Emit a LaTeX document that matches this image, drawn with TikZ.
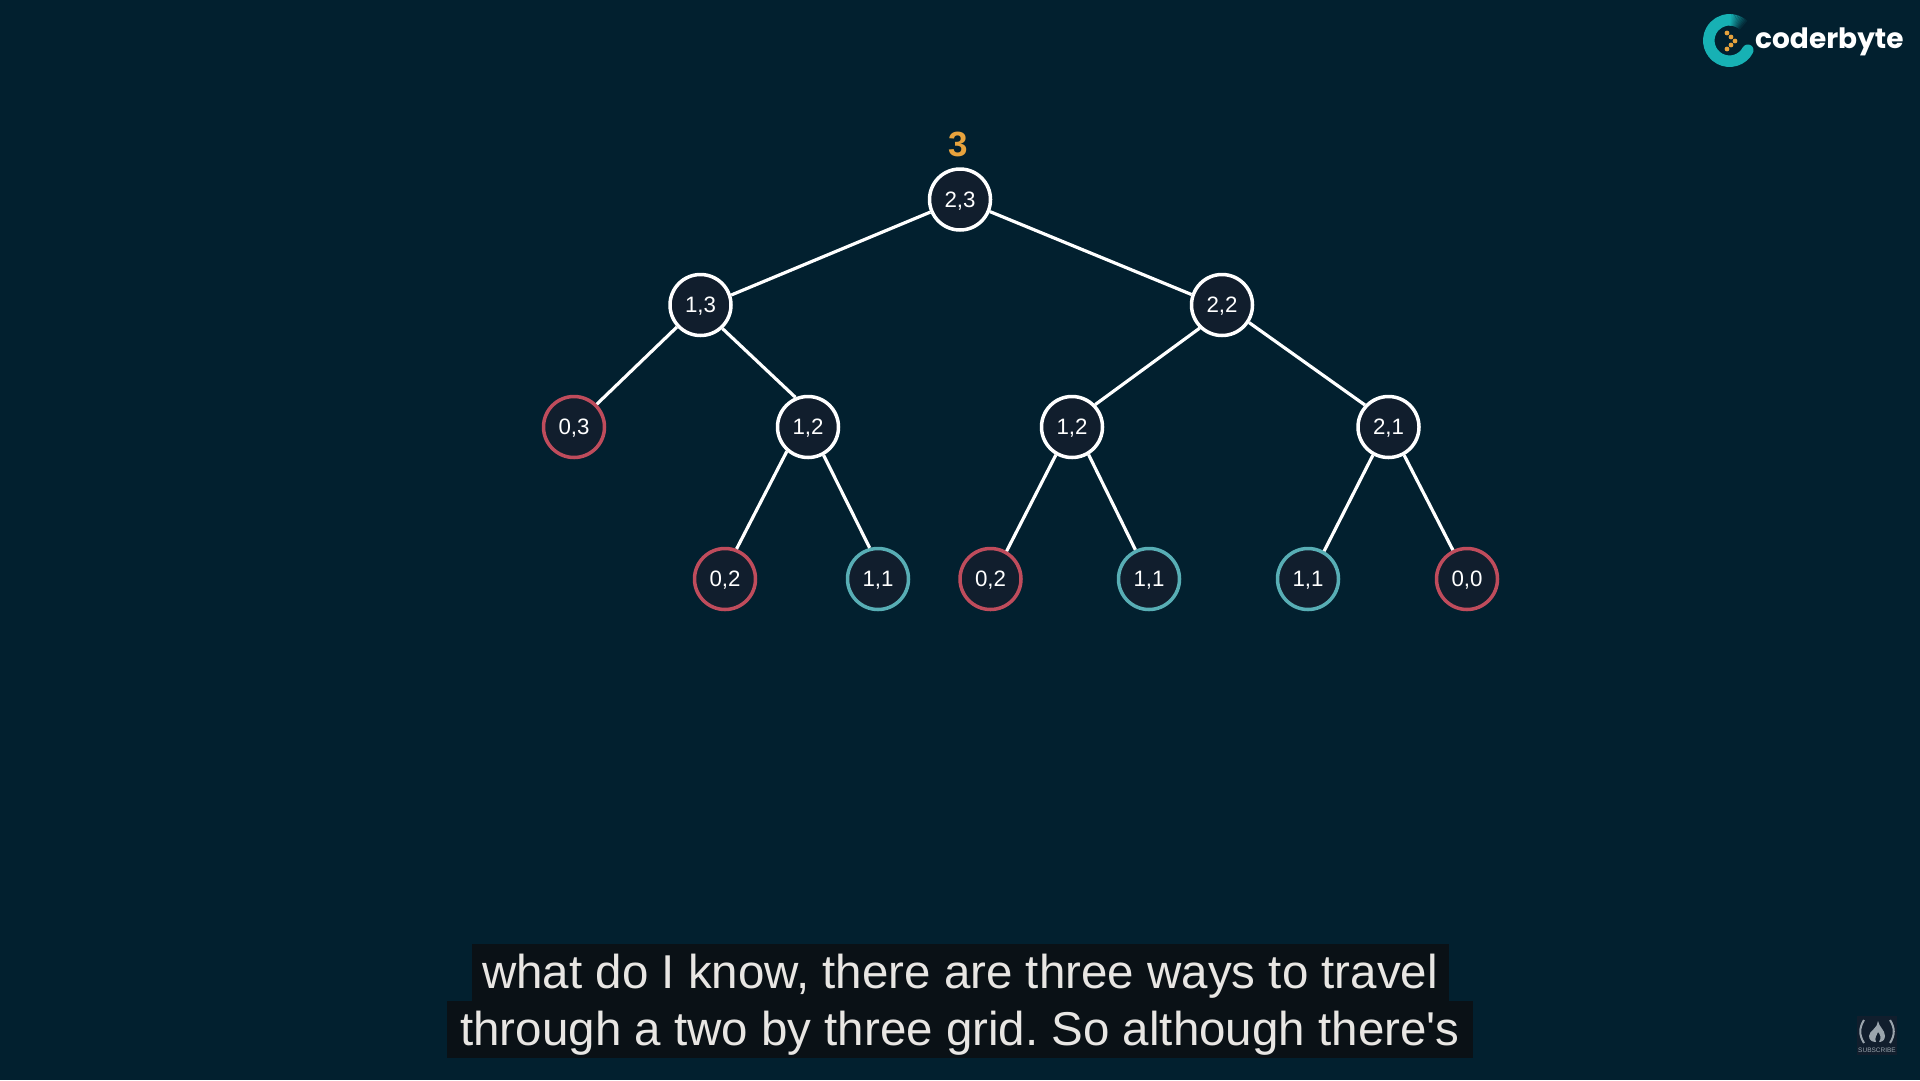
\documentclass[tikz,border=0pt]{standalone}
\usepackage{fontspec}
\setmainfont{Liberation Sans}
\newfontfamily\logofont{Poppins}
\newfontfamily\capfont{Liberation Sans}
\frenchspacing
\definecolor{bgc}{HTML}{02202F}
\definecolor{nodefill}{HTML}{111E2D}
\definecolor{redc}{HTML}{BF4C5C}
\definecolor{tealc}{HTML}{58AEB5}
\definecolor{orangec}{HTML}{E8A33D}
\definecolor{capbg}{HTML}{0A1116}
\definecolor{captext}{HTML}{E8E6E3}
\definecolor{logoteal}{HTML}{17B1B4}
\definecolor{subc}{HTML}{9BA5AD}
\tikzset{
  treenode/.style={circle,draw=white,fill=nodefill,line width=3.5pt,minimum size=61pt,inner sep=0pt,text=white,text height=15.8pt,text depth=0pt,font=\fontsize{22.3}{24}\selectfont},
  rednode/.style={treenode,draw=redc},
  tealnode/.style={treenode,draw=tealc},
  edge/.style={draw=white,line width=3.2pt},
  capline/.style={inner sep=0pt,anchor=base,text=captext,font=\fontsize{47.5}{56}\selectfont\capfont}
}
\begin{document}
\begin{tikzpicture}[x=1pt,y=-1pt]
\useasboundingbox (0,0) rectangle (1920,1080);
\fill[bgc] (0,0) rectangle (1920,1080);
% nodes
\node[treenode] (n23) at (960,199.5) {2,3};
\node[treenode] (n13) at (700.5,305) {1,3};
\node[treenode] (n22) at (1222,305) {2,2};
\node[rednode] (n03) at (574,427) {0,3};
\node[treenode] (n12a) at (808,427) {1,2};
\node[treenode] (n12b) at (1072,427) {1,2};
\node[treenode] (n21) at (1388.5,427) {2,1};
\node[rednode] (n02a) at (725,579) {0,2};
\node[tealnode] (n11a) at (878,579) {1,1};
\node[rednode] (n02b) at (990.5,579) {0,2};
\node[tealnode] (n11b) at (1149,579) {1,1};
\node[tealnode] (n11c) at (1308,579) {1,1};
\node[rednode] (n00) at (1467,579) {0,0};
\foreach \a/\aa/\b/\bb in {n23/-157/n13/18,n23/-22/n22/161,n13/-137/n03/45,n13/-47/n12a/113,n22/-134/n12b/44,n22/-33/n21/137,n12a/-131/n02a/69,n12a/-61/n11a/105,n12b/-120/n02b/60,n12b/-59/n11b/115,n21/-119/n11c/60,n21/-61/n00/116}
  \draw[edge] (\a.\aa) -- (\b.\bb);
\node[text=orangec,inner sep=0pt,font=\fontsize{35}{40}\selectfont\bfseries] (val) at (958.7,144) {3};
% caption
\fill[capbg] (472,944) rectangle (1449,1001);
\fill[capbg] (447,1001) rectangle (1473,1058);
\node[capline] (cap1) at (960,988) {what do I know, there are three ways to travel};
\node[capline] (cap2) at (960,1045.7) {through a two by three grid. So although there's};
% logo
\draw[logoteal,line width=11.5pt,line cap=round] (1729.5,40.5) ++(28:20.7) arc[start angle=28,end angle=270,radius=20.7];
\foreach \i in {0,...,11}{
  \pgfmathsetmacro{\mx}{100-\i*8.3}
  \colorlet{segc}{logoteal!\mx!bgc}
  \draw[segc,line width=11.5pt] (1729.5,40.5) ++(270+\i*3.5:20.7) arc[start angle=270+\i*3.5,end angle=270+\i*3.5+4.2,radius=20.7];
}
\foreach \px/\py in {1727/33,1731/37,1735/41,1731/45,1727/49}
  \fill[orangec] (\px,\py) circle (2.4);
\node[anchor=base west,inner sep=0pt,text=white,font=\fontsize{28}{34}\selectfont\logofont\bfseries] (logo) at (1755,48.5) {coderbyte};
% subscribe badge
\fill[nodefill] (1857,1016) rectangle (1897,1055);
\node[inner sep=0pt,text=subc,font=\fontsize{6.5}{8}\selectfont] (sub) at (1877,1050) {SUBSCRIBE};
\draw[subc,line width=2pt] (1864,1020) .. controls (1859,1028) and (1859,1035) .. (1864,1043);
\draw[subc,line width=2pt] (1890,1020) .. controls (1895,1028) and (1895,1035) .. (1890,1043);
\fill[subc] (1878,1021) .. controls (1879,1027) and (1885,1030) .. (1885,1036) .. controls (1885,1041) and (1881,1042) .. (1879,1042) .. controls (1882,1038) and (1880,1034) .. (1878,1032) .. controls (1877,1035) and (1874,1038) .. (1876,1042) .. controls (1872,1042) and (1869,1040) .. (1869,1036) .. controls (1869,1031) and (1878,1028) .. (1878,1021) -- cycle;
\end{tikzpicture}
\end{document}
